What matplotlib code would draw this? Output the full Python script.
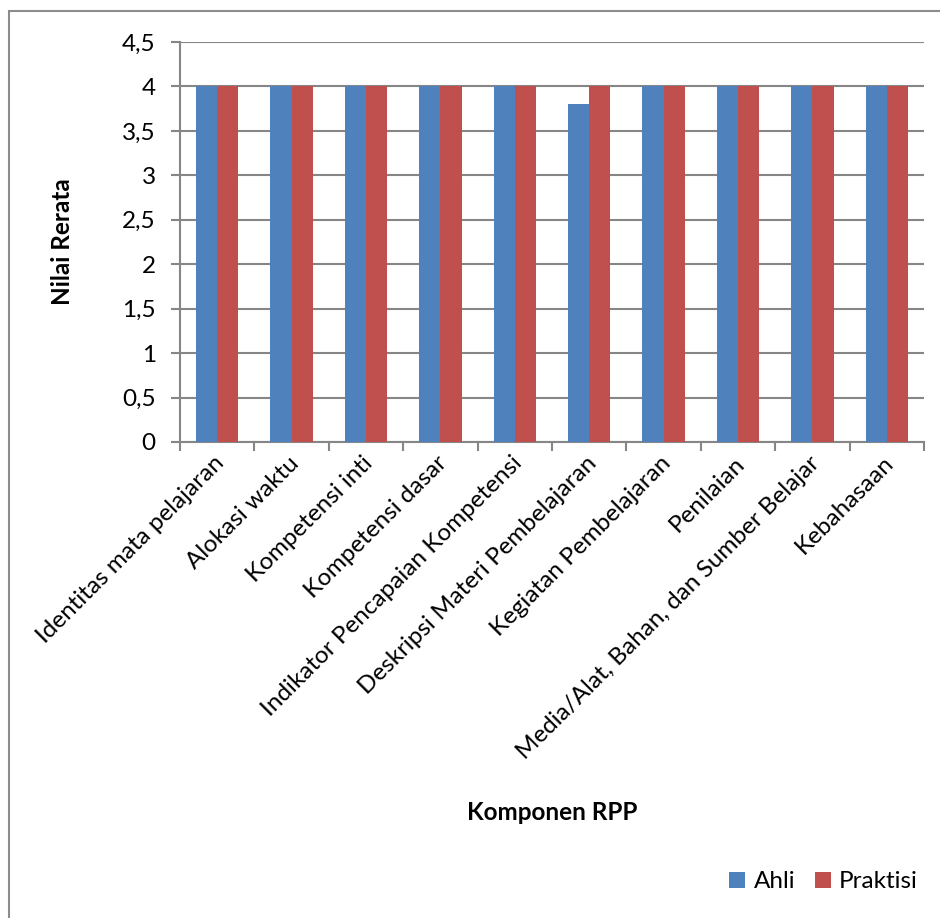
import matplotlib
matplotlib.use("Agg")
import matplotlib.pyplot as plt
import numpy as np
from matplotlib.patches import Rectangle

categories = [
    "Identitas mata pelajaran",
    "Alokasi waktu",
    "Kompetensi inti",
    "Kompetensi dasar",
    "Indikator Pencapaian Kompetensi",
    "Deskripsi Materi Pembelajaran",
    "Kegiatan Pembelajaran",
    "Penilaian",
    "Media/Alat, Bahan, dan Sumber Belajar",
    "Kebahasaan",
]
ahli = [4, 4, 4, 4, 4, 3.8, 4, 4, 4, 4]
praktisi = [4, 4, 4, 4, 4, 4, 4, 4, 4, 4]
yticks = [0, 0.5, 1, 1.5, 2, 2.5, 3, 3.5, 4, 4.5]
ytick_labels = ["0", "0,5", "1", "1,5", "2", "2,5", "3", "3,5", "4", "4,5"]

plt.rcParams["font.family"] = ["Lato", "DejaVu Sans"]
FS = 17.5

W, H = 940, 918
fig = plt.figure(figsize=(W / 100, H / 100), dpi=100)

# outer chart frame
fig.patches.append(Rectangle((9 / W, -0.01), 1.2, 1 - 11 / H + 0.01,
                             transform=fig.transFigure, fill=False,
                             edgecolor="#8c8c8c", linewidth=1.5))

left, right, top, bottom = 180, 924, 42, 442
ax = fig.add_axes([left / W, 1 - bottom / H, (right - left) / W, (bottom - top) / H])

grid_c = "#868686"
x = np.arange(len(categories))
bw = 1 / 3.5
ax.bar(x - bw / 2, ahli, width=bw, color="#4F81BD", label="Ahli", zorder=3)
ax.bar(x + bw / 2, praktisi, width=bw, color="#C0504D", label="Praktisi", zorder=3)

ax.set_xlim(-0.5, len(categories) - 0.5)
ax.set_ylim(0, 4.5)
ax.set_yticks(yticks)
ax.set_yticklabels(ytick_labels, fontsize=FS)
ax.yaxis.grid(True, color=grid_c, linewidth=1.5, zorder=0)
ax.set_axisbelow(True)

for s in ["top", "right"]:
    ax.spines[s].set_visible(False)
for s in ["left", "bottom"]:
    ax.spines[s].set_color(grid_c)
    ax.spines[s].set_linewidth(1.5)

ax.tick_params(axis="y", length=6.5, width=1.5, color=grid_c, pad=11, direction="out")
# category boundary ticks
ax.set_xticks(np.arange(len(categories) + 1) - 0.5)
ax.set_xticklabels([])
ax.tick_params(axis="x", length=6.5, width=1.5, color=grid_c, direction="out")

for i, c in enumerate(categories):
    ax.text(i + 0.05, -0.2, c, rotation=45, rotation_mode="anchor",
            ha="right", va="center", fontsize=FS,
            transform=ax.transData, clip_on=False)

fig.text(62 / W, 1 - 242 / H, "Nilai Rerata", rotation=90, ha="center",
         va="center", fontsize=FS, fontweight="bold")
fig.text(552 / W, 1 - 812 / H, "Komponen RPP", ha="center", va="center",
         fontsize=FS, fontweight="bold")

fig.legend(loc="center right", bbox_to_anchor=(918 / W, 1 - 882 / H),
           ncol=2, frameon=False, fontsize=FS, handlelength=0.65,
           handleheight=0.65, handletextpad=0.35, columnspacing=0.8,
           borderaxespad=0, borderpad=0)

fig.savefig("out.png", dpi=100)
